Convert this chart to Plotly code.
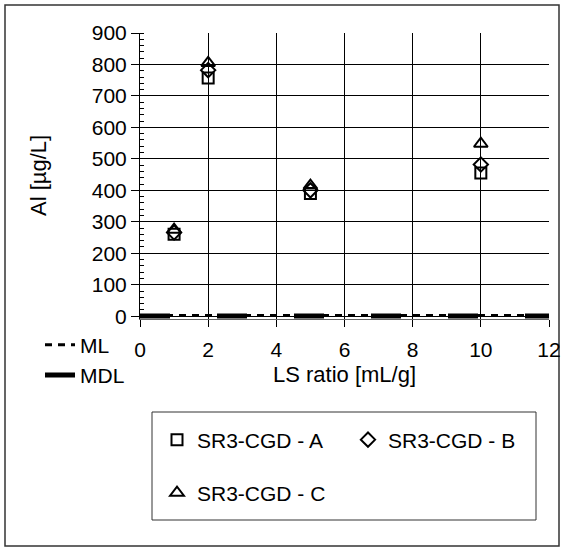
import plotly.graph_objects as go

# ---- data ----
ls_ratio = [1, 2, 5, 10]
sr3_a = [260, 757, 390, 455]
sr3_b = [266, 782, 400, 482]
sr3_c = [275, 805, 415, 548]
line_x = [0, 12]
ml_vals = [2.0, 2.0]
mdl_vals = [0.6, 0.6]

x_ticks = [0, 2, 4, 6, 8, 10, 12]
y_ticks = [0, 100, 200, 300, 400, 500, 600, 700, 800, 900]

FONT = "Liberation Sans, Arial, sans-serif"
W, H = 564, 548
L, R, T, B = 140, 15, 33, 229
PW, PH = W - L - R, H - T - B
YMIN = -9  # lets the thick MDL line show on both sides of the zero line

def px_x(q):
    return (q - L) / PW

def px_y(p):
    return (H - B - p) / PH

fig = go.Figure()

fig.add_trace(go.Scatter(x=line_x, y=ml_vals, mode="lines", name="ML",
                         line=dict(color="black", width=3, dash="7px,6px"),
                         legend="legend2"))
fig.add_trace(go.Scatter(x=line_x, y=mdl_vals, mode="lines", name="MDL",
                         line=dict(color="black", width=5, dash="30px,47px"),
                         legend="legend2"))

fig.add_trace(go.Scatter(x=ls_ratio, y=sr3_a, mode="markers", name="SR3-CGD - A",
                         marker=dict(symbol="square-open", size=11, color="black",
                                     line=dict(width=2)), legend="legend"))
fig.add_trace(go.Scatter(x=ls_ratio, y=sr3_b, mode="markers", name="SR3-CGD - B",
                         marker=dict(symbol="diamond-open", size=11, color="black",
                                     line=dict(width=2)), legend="legend"))
fig.add_trace(go.Scatter(x=ls_ratio, y=sr3_c, mode="markers", name="SR3-CGD - C",
                         marker=dict(symbol="triangle-up-open", size=12, color="black",
                                     line=dict(width=2)), legend="legend3"))

fig.update_layout(
    width=W, height=H,
    margin=dict(l=L, r=R, t=T, b=B, autoexpand=False),
    paper_bgcolor="white", plot_bgcolor="white",
    font=dict(family=FONT, size=21, color="black"),
    template="none",
    xaxis=dict(range=[0, 12], tickvals=x_ticks, showgrid=True, gridcolor="black",
               gridwidth=1, ticks="outside", ticklen=7, tickcolor="black",
               showline=True, linecolor="#666666", linewidth=1, zeroline=False,
               ticklabelstandoff=5,
               title=dict(text="LS ratio [mL/g]", font=dict(size=22), standoff=6)),
    yaxis=dict(range=[YMIN, 900], tickvals=y_ticks, showgrid=True, gridcolor="black",
               gridwidth=1, ticks="outside", ticklen=8, tickcolor="black",
               showline=True, linecolor="black", linewidth=1, zeroline=False,
               ticksuffix=" ",
               minor=dict(dtick=20, tick0=0, ticks="inside", ticklen=4,
                          tickcolor="black", showgrid=False)),
    annotations=[
        dict(text="Al [µg/L]", xref="paper", yref="paper",
             x=px_x(38), y=px_y(176), xanchor="center", yanchor="middle",
             textangle=-90, showarrow=False, font=dict(size=22)),
    ],
    legend=dict(orientation="h", xref="container", yref="container",
                x=157 / W, y=1 - 440 / H, xanchor="left", yanchor="middle",
                entrywidth=146, bgcolor="rgba(0,0,0,0)", borderwidth=0,
                font=dict(size=21)),
    legend3=dict(orientation="h", xref="container", yref="container",
                 x=157 / W, y=1 - 493 / H, xanchor="left", yanchor="middle",
                 bgcolor="rgba(0,0,0,0)", borderwidth=0, font=dict(size=21)),
    legend2=dict(orientation="v", xref="container", yref="container",
                 x=40 / W, y=1 - 360 / H, xanchor="left", yanchor="middle",
                 bgcolor="rgba(0,0,0,0)", borderwidth=0, font=dict(size=21),
                 tracegroupgap=0),
    shapes=[
        dict(type="rect", xref="paper", yref="paper",
             x0=px_x(152), x1=px_x(536), y0=px_y(520), y1=px_y(412),
             line=dict(color="#333333", width=1), fillcolor="rgba(0,0,0,0)", layer="below"),
        dict(type="rect", xref="paper", yref="paper",
             x0=px_x(5), x1=px_x(559), y0=px_y(546), y1=px_y(5),
             line=dict(color="#333333", width=1.5), fillcolor="rgba(0,0,0,0)", layer="below"),
    ],
)

fig.write_html("out.html", config={"displayModeBar": False},
               post_script="document.body.style.margin='0';")
